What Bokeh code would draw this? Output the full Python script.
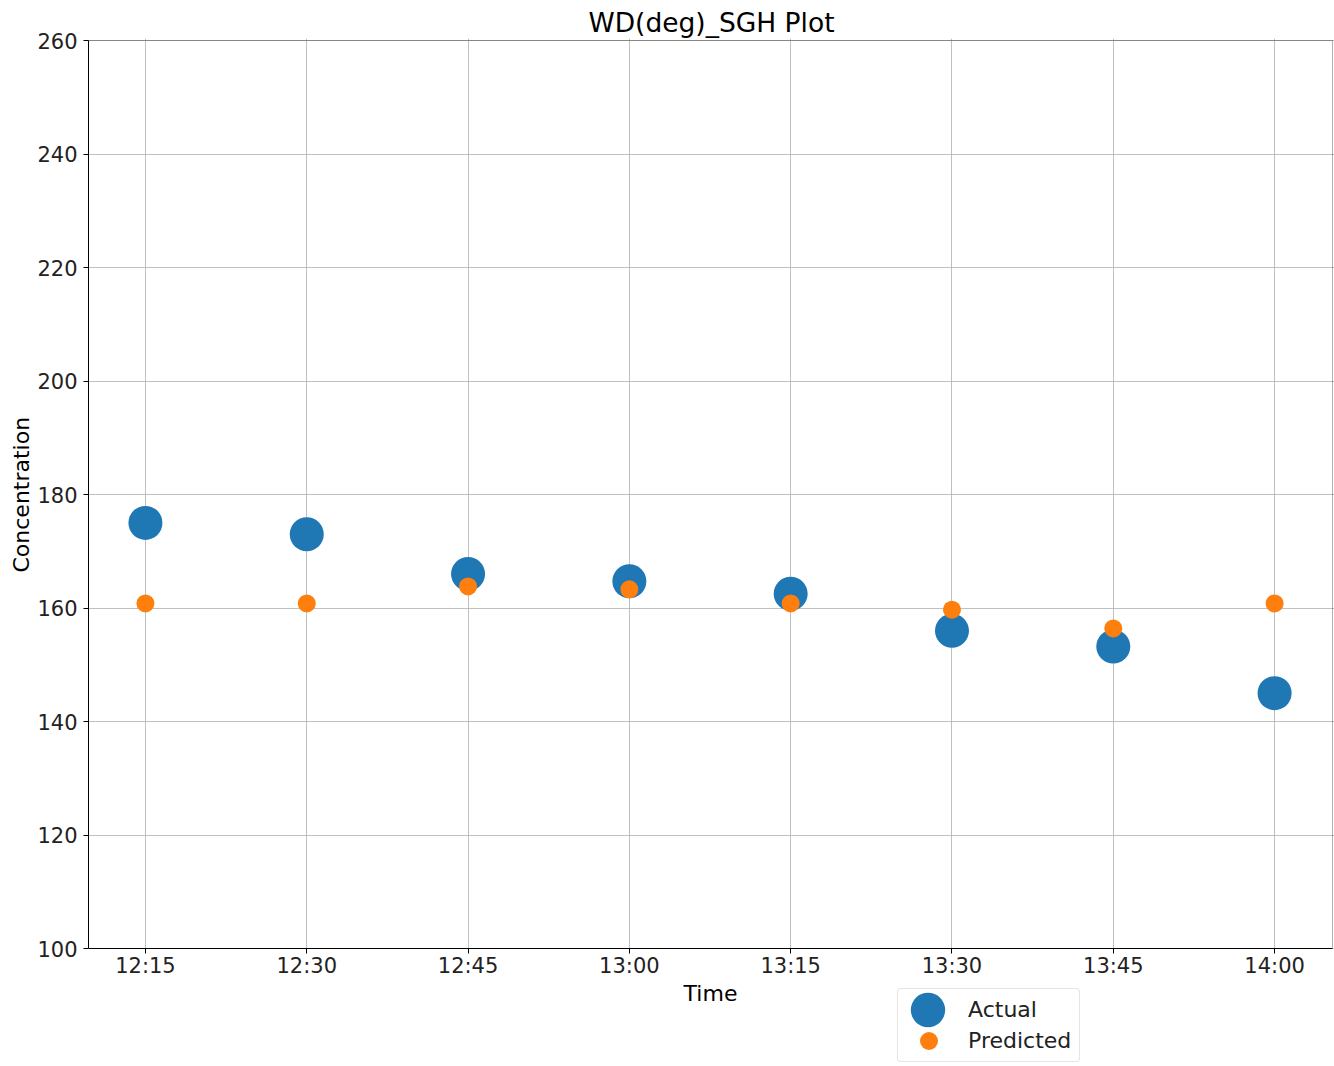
from bokeh.plotting import figure
from bokeh.models import (Legend, LegendItem, FixedTicker, Range1d, ColumnDataSource,
                          BoxAnnotation, Title)
from bokeh.embed import file_html
from bokeh.resources import INLINE

times = ["12:15", "12:30", "12:45", "13:00", "13:15", "13:30", "13:45", "14:00"]
actual = [175.0, 173.0, 166.0, 164.7, 162.5, 156.0, 153.2, 145.0]
predicted = [160.8, 160.8, 163.8, 163.3, 160.8, 159.7, 156.4, 160.8]
y_ticks = [100, 120, 140, 160, 180, 200, 220, 240, 260]
y_min, y_max = 100, 260
x_lo, x_hi = -0.353, 7.359

idx = list(range(len(times)))
src = ColumnDataSource(dict(x=idx, actual=actual, predicted=predicted))

FONT = "DejaVu Sans"

# Axes box geometry (px); the frame is extended below the box to host tick labels + legend
BOX_W, BOX_H = 1244, 908
EXTRA_BOTTOM, EXTRA_TOP, EXTRA_RIGHT = 116, 2, 2
uy = (y_max - y_min) / BOX_H
ux = (x_hi - x_lo) / BOX_W

p = figure(frame_width=BOX_W + EXTRA_RIGHT, frame_height=BOX_H + EXTRA_BOTTOM + EXTRA_TOP,
           output_backend="svg", toolbar_location=None,
           x_range=Range1d(x_lo, x_hi + EXTRA_RIGHT * ux),
           y_range=Range1d(y_min - EXTRA_BOTTOM * uy, y_max + EXTRA_TOP * uy),
           min_border_left=88, min_border_right=0, min_border_top=38, min_border_bottom=0)

p.title.text = "WD(deg)_SGH Plot"
p.title.align = "center"
p.title.text_font = FONT
p.title.text_font_size = "26.5px"
p.title.text_font_style = "normal"
p.title.text_color = "#000000"
p.title.offset = 0
p.title.standoff = 2

p.outline_line_color = None
p.background_fill_color = "#ffffff"

for ax in (p.xaxis[0], p.yaxis[0]):
    ax.major_label_text_font = FONT
    ax.major_label_text_font_size = "21px"
    ax.major_label_text_color = "#222222"
    ax.axis_label_text_font = FONT
    ax.axis_label_text_font_size = "22px"
    ax.axis_label_text_font_style = "normal"
    ax.axis_label_text_color = "#000000"
    ax.axis_line_color = "#000000"
    ax.major_tick_line_color = "#000000"
    ax.major_tick_out = 5
    ax.major_tick_in = 0
    ax.minor_tick_line_color = None

p.xaxis.ticker = FixedTicker(ticks=idx)
p.xaxis.major_label_overrides = {i: t for i, t in zip(idx, times)}
p.xaxis.axis_label = "Time"
p.xaxis.axis_label_standoff = 0
p.xaxis.major_label_standoff = 0
p.xaxis.fixed_location = y_min
p.xaxis.bounds = (x_lo, x_hi)
p.yaxis.ticker = FixedTicker(ticks=y_ticks)
p.yaxis.bounds = (y_min, y_max)
p.yaxis.axis_label = None
p.yaxis.major_label_standoff = 6

# y axis title, centred on the axes box (not on the extended frame)
ytitle = Title(text="Concentration", align="left", offset=492, standoff=2,
               text_font=FONT, text_font_size="22px", text_font_style="normal",
               text_color="#000000")
p.add_layout(ytitle, "left")

p.grid.grid_line_color = "#b0b0b0"
p.grid.grid_line_width = 0.8
p.xgrid.ticker = FixedTicker(ticks=idx)
p.ygrid.ticker = FixedTicker(ticks=y_ticks)

# white cover below the axes box (hides grid lines there), and the box outline
p.add_layout(BoxAnnotation(top=y_min, fill_color="#ffffff", fill_alpha=1,
                           line_color=None, level="glyph"))
p.add_layout(BoxAnnotation(bottom=y_min, top=y_max, right=x_hi, fill_alpha=0,
                           line_color="#000000", line_width=1, level="guide"))

# Actual drawn as a screen-sized ellipse (circle of 34px), Predicted as an 18px scatter
r_act = p.ellipse("x", "actual", source=src, width=34, height=34,
                  width_units="screen", height_units="screen",
                  fill_color="#1f77b4", line_color=None)
r_pred = p.scatter("x", "predicted", source=src, size=18, fill_color="#ff7f0e", line_color=None)

# invisible twins used for the legend's text rows
d_act = p.scatter("x", "actual", source=src, size=1, alpha=0)
d_pred = p.scatter("x", "predicted", source=src, size=1, alpha=0)

legA = Legend(items=[LegendItem(label="Actual", renderers=[d_act]),
                     LegendItem(label="Predicted", renderers=[d_pred])],
              location=(809, 2), orientation="vertical",
              padding=8, spacing=6, glyph_width=52, glyph_height=24, label_height=24,
              label_standoff=10,
              label_text_font=FONT, label_text_font_size="22px", label_text_color="#222222",
              border_line_color="#cccccc", border_line_width=1,
              background_fill_color="#ffffff", background_fill_alpha=0.8, margin=0)
if "border_radius" in Legend.properties():
    legA.border_radius = 4
legB = Legend(items=[LegendItem(label=" ", renderers=[r_act])],
              location=(818, 33), padding=0, spacing=0, glyph_width=43, glyph_height=43,
              label_standoff=0, label_text_font_size="8px",
              border_line_color=None, background_fill_alpha=0, margin=0)
legC = Legend(items=[LegendItem(label=" ", renderers=[r_pred])],
              location=(818, 1), padding=0, spacing=0, glyph_width=45, glyph_height=45,
              label_standoff=0, label_text_font_size="8px",
              border_line_color=None, background_fill_alpha=0, margin=0)
p.add_layout(legA, "center")
p.add_layout(legB, "center")
p.add_layout(legC, "center")

open("out.html", "w").write(file_html(p, INLINE))
